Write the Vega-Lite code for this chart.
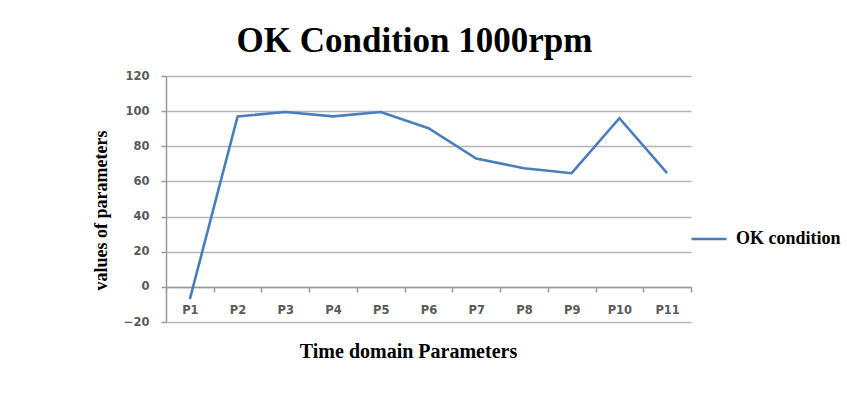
{
  "$schema": "https://vega.github.io/schema/vega-lite/v6.json",
  "width": 525,
  "height": 246,
  "autosize": {"type": "none"},
  "padding": {"left": 166, "top": 76, "right": 156, "bottom": 97},
  "background": "white",
  "title": {
    "text": "OK Condition 1000rpm",
    "font": "Liberation Serif",
    "fontSize": 35,
    "fontWeight": "bold",
    "color": "#000000",
    "anchor": "middle",
    "baseline": "alphabetic",
    "offset": 24,
    "dy": 41,
    "dx": -14
  },
  "data": {
    "values": [
      {"param": "P1", "value": -7, "series": "OK condition"},
      {"param": "P2", "value": 97, "series": "OK condition"},
      {"param": "P3", "value": 99.5, "series": "OK condition"},
      {"param": "P4", "value": 97, "series": "OK condition"},
      {"param": "P5", "value": 99.5, "series": "OK condition"},
      {"param": "P6", "value": 90.3, "series": "OK condition"},
      {"param": "P7", "value": 73, "series": "OK condition"},
      {"param": "P8", "value": 67.5, "series": "OK condition"},
      {"param": "P9", "value": 64.7, "series": "OK condition"},
      {"param": "P10", "value": 96, "series": "OK condition"},
      {"param": "P11", "value": 64.7, "series": "OK condition"}
    ]
  },
  "mark": {"type": "line", "strokeWidth": 2.6},
  "encoding": {
    "x": {
      "field": "param",
      "type": "nominal",
      "sort": null,
      "bandPosition": 0.5,
      "scale": {"type": "band", "paddingInner": 0, "paddingOuter": 0},
      "axis": {
        "title": "Time domain Parameters",
        "titleFont": "Liberation Serif",
        "titleFontSize": 20,
        "titleFontWeight": "bold",
        "titleColor": "#000000",
        "titleBaseline": "alphabetic",
        "titleX": 242,
        "titleY": 70,
        "offset": -35,
        "labelAngle": 0,
        "labelFont": "DejaVu Sans",
        "labelFontSize": 11.5,
        "labelFontWeight": "bold",
        "labelColor": "#5a5a5a",
        "labelPadding": 12,
        "tickBand": "extent",
        "tickSize": 5,
        "tickColor": "#9a9a9a",
        "tickWidth": 1.5,
        "domainColor": "#9a9a9a",
        "domainWidth": 1.5,
        "grid": false
      }
    },
    "y": {
      "field": "value",
      "type": "quantitative",
      "scale": {"domain": [-20, 120], "nice": false, "zero": false},
      "axis": {
        "values": [-20, 0, 20, 40, 60, 80, 100, 120],
        "title": "values of parameters",
        "titleFont": "Liberation Serif",
        "titleFontSize": 18,
        "titleFontWeight": "bold",
        "titleColor": "#000000",
        "titleAngle": -90,
        "titleAlign": "center",
        "titleBaseline": "alphabetic",
        "titleX": -60,
        "titleY": 134,
        "labelFont": "DejaVu Sans",
        "labelFontSize": 11.5,
        "labelFontWeight": "bold",
        "labelColor": "#5a5a5a",
        "labelPadding": 12,
        "tickSize": 5,
        "tickColor": "#9a9a9a",
        "tickWidth": 1.5,
        "domainColor": "#9a9a9a",
        "domainWidth": 1.5,
        "grid": true,
        "gridColor": "#b4b4b4",
        "gridWidth": 1.5
      }
    },
    "color": {
      "field": "series",
      "type": "nominal",
      "scale": {"range": ["#4a7ebb"]},
      "legend": {
        "title": null,
        "orient": "none",
        "legendX": 524,
        "legendY": 144,
        "symbolType": "stroke",
        "symbolSize": 1225,
        "symbolStrokeWidth": 2.5,
        "labelFont": "Liberation Serif",
        "labelFontSize": 18,
        "labelFontWeight": "bold",
        "labelColor": "#000000",
        "labelOffset": 8,
        "labelLimit": 200
      }
    }
  },
  "config": {
    "view": {"stroke": null}
  }
}
